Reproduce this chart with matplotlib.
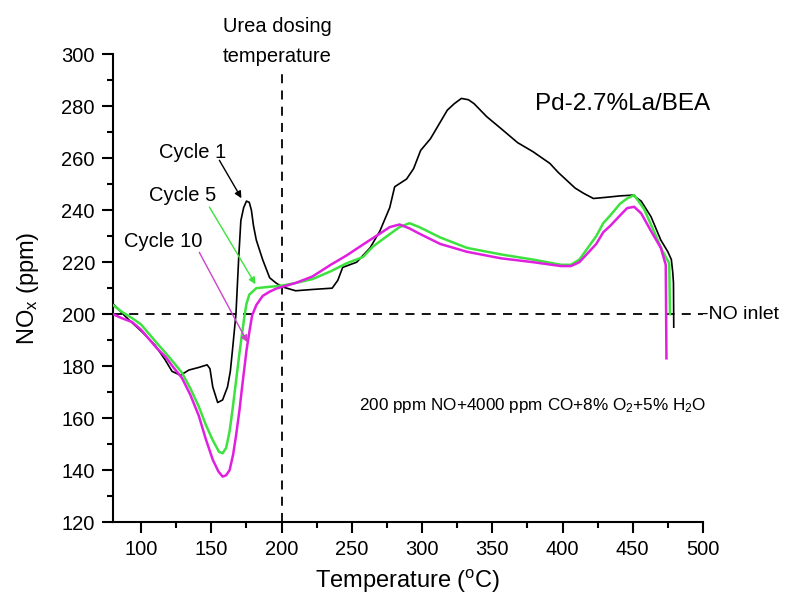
import matplotlib
matplotlib.use("Agg")
import matplotlib.pyplot as plt
from matplotlib.ticker import MultipleLocator

plt.rcParams['font.family'] = ['Liberation Sans', 'DejaVu Sans']
plt.rcParams['mathtext.fontset'] = 'custom'
plt.rcParams['mathtext.rm'] = 'Liberation Sans'
plt.rcParams['mathtext.it'] = 'Liberation Sans:italic'

# values (temperature in C, NOx in ppm)
cycle1_t = [80, 89, 101, 110, 117, 122, 128, 134, 141, 147, 149, 151, 154.5, 158, 161.5,
            163.5, 165, 167.5, 169.5, 171, 173, 175, 177, 178.5, 180, 182, 186.5, 191.5,
            196, 200.5, 210, 222, 236, 240, 243.5, 253.5, 263, 270, 277, 280.5, 289, 294,
            299, 306, 312, 318, 323, 328, 333, 337, 346, 356, 368, 379, 391, 397, 403,
            409, 415, 422, 432, 441, 450, 456, 463, 470, 475, 477.5, 478.5, 479, 479.2]
cycle1_v = [204, 199, 193, 188, 182.5, 178, 176.5, 178.5, 179.5, 180.5, 179, 172, 166, 167,
            172, 178, 186, 200, 222, 236, 241, 243.5, 243, 240, 234, 228.5, 221, 214,
            212, 210.5, 209, 209.5, 210, 213, 218, 220, 225.5, 232, 241, 249, 252, 256,
            263, 267.5, 273, 278.5, 281, 283, 282.5, 281, 276, 271.5, 266, 262.5, 258,
            254.5, 251.5, 248.5, 246.5, 244.5, 245, 245.5, 245.8, 243.5, 237.5, 228.5,
            224, 221, 216, 212, 195]

cycle5_t = [80, 86, 93.5, 100, 105.5, 111, 117.5, 123, 129, 135, 141, 146, 151, 155.5, 158,
            160.5, 163, 165, 167.5, 170, 172, 173.5, 175, 177, 180, 182, 191, 200.5, 210,
            222, 235, 246, 258, 265, 275, 284, 291, 298, 313, 332, 356, 379, 399, 406,
            412, 418, 424, 429, 434, 441, 446, 451, 458, 465, 471, 476, 476.5]
cycle5_v = [203.5, 201, 198.5, 196, 192.5, 189, 185, 181.5, 177.5, 171.5, 164.5, 157.5,
            151.5, 147, 146.5, 148.5, 155, 163, 174, 185, 193, 199, 204, 207.5, 209, 210,
            210.5, 211, 212, 213.5, 216.5, 219.5, 222, 226, 230, 233.5, 235, 233.5, 229.5,
            225.5, 223, 221, 219, 219, 221, 225.5, 230, 235, 238, 242.5, 244.5, 245.8,
            240.5, 232, 224.5, 219.5, 200]

cycle10_t = [80, 86, 93.5, 100, 105.5, 111, 117.5, 123, 129, 135, 141, 146, 151, 155, 158,
             160.5, 163, 165.5, 167.5, 170, 172, 175, 177, 179, 182, 186.5, 191, 196, 200.5,
             210, 222, 235, 246, 260, 270, 277, 284, 291, 298, 313, 332, 356, 379, 399,
             406, 412, 418, 424, 429, 434, 441, 446, 451, 456, 463, 470, 473.5, 474]
cycle10_v = [200, 198.5, 197, 194, 190.5, 187, 183.5, 179.5, 175.5, 169, 161, 152, 144,
             139.5, 137.5, 138, 140, 146, 153, 163, 172.5, 186, 193, 199.5, 203.5, 207,
             208.5, 209.8, 210.5, 212, 214.5, 219, 222.5, 227.5, 231, 233.5, 234.5, 233,
             231, 227, 224, 221.5, 220, 218.5, 218.5, 220, 223.5, 227, 231.5, 234, 238,
             240.8, 241.3, 238.8, 232, 225.5, 219, 183]

no_inlet = 200
urea_temp = 200

black = '#000000'
green = '#3ee23e'
magenta = '#e020e0'

fig = plt.figure(figsize=(7.85, 5.96), dpi=100)
ax = fig.add_axes([0.144, 0.124, 0.7515, 0.785])

ax.plot(cycle1_t, cycle1_v, color=black, lw=1.2, zorder=3)
ax.plot(cycle5_t, cycle5_v, color=green, lw=1.8, zorder=3)
ax.plot(cycle10_t, cycle10_v, color=magenta, lw=1.8, zorder=3)

ax.plot([80, 500], [no_inlet, no_inlet], color='black', lw=1.3, ls=(0, (5, 4)), zorder=2)
ax.plot([urea_temp, urea_temp], [120, 295], color='black', lw=1.3, ls=(0, (5, 4)),
        zorder=2, clip_on=False)

ax.set_xlim(80, 500)
ax.set_ylim(120, 300)
ax.xaxis.set_major_locator(MultipleLocator(50))
ax.xaxis.set_minor_locator(MultipleLocator(25))
ax.yaxis.set_major_locator(MultipleLocator(20))
ax.yaxis.set_minor_locator(MultipleLocator(10))
ax.spines['top'].set_visible(False)
ax.spines['right'].set_visible(False)
ax.spines['left'].set_linewidth(1.5)
ax.spines['bottom'].set_linewidth(1.5)
ax.tick_params(which='major', direction='out', length=8, width=1.5, labelsize=14.5,
               pad=5)
ax.tick_params(which='minor', direction='out', length=4, width=1.5)

ax.set_xlabel('Temperature ($^\\mathregular{o}$C)', fontsize=17, labelpad=6)
ax.set_ylabel('NO$_\\mathregular{x}$ (ppm)', fontsize=17, labelpad=15)

ax.text(197, 305, 'Urea dosing\ntemperature', ha='center', va='center', fontsize=14.5,
        linespacing=1.75, clip_on=False)
ax.text(499, 200, '-NO inlet', ha='left', va='center', fontsize=14, clip_on=False)
ax.text(443, 281, 'Pd-2.7%La/BEA', ha='center', va='center', fontsize=17.5)
ax.text(379, 165, '200 ppm NO+4000 ppm CO+8% O$_\\mathregular{2}$+5% H$_\\mathregular{2}$O',
        ha='center', va='center', fontsize=12.3)

# cycle labels with arrows
ax.text(136.4, 262.3, 'Cycle 1', ha='center', va='center', fontsize=14.5)
ax.annotate('', xy=(171.4, 244.6), xytext=(155.7, 259.2),
            arrowprops=dict(arrowstyle='-|>', color=black, lw=1, mutation_scale=10,
                            shrinkA=0, shrinkB=0))
ax.text(129.3, 245.8, 'Cycle 5', ha='center', va='center', fontsize=14.5)
ax.annotate('', xy=(181.4, 211.5), xytext=(148.6, 241.2),
            arrowprops=dict(arrowstyle='-|>', color=green, lw=1, mutation_scale=10,
                            shrinkA=0, shrinkB=0))
ax.text(115.7, 228, 'Cycle 10', ha='center', va='center', fontsize=14.5)
ax.annotate('', xy=(175.7, 189.2), xytext=(141.4, 223.8),
            arrowprops=dict(arrowstyle='-|>', color='#cc44cc', lw=1, mutation_scale=10,
                            shrinkA=0, shrinkB=0))

fig.savefig('out.png', dpi=100)
